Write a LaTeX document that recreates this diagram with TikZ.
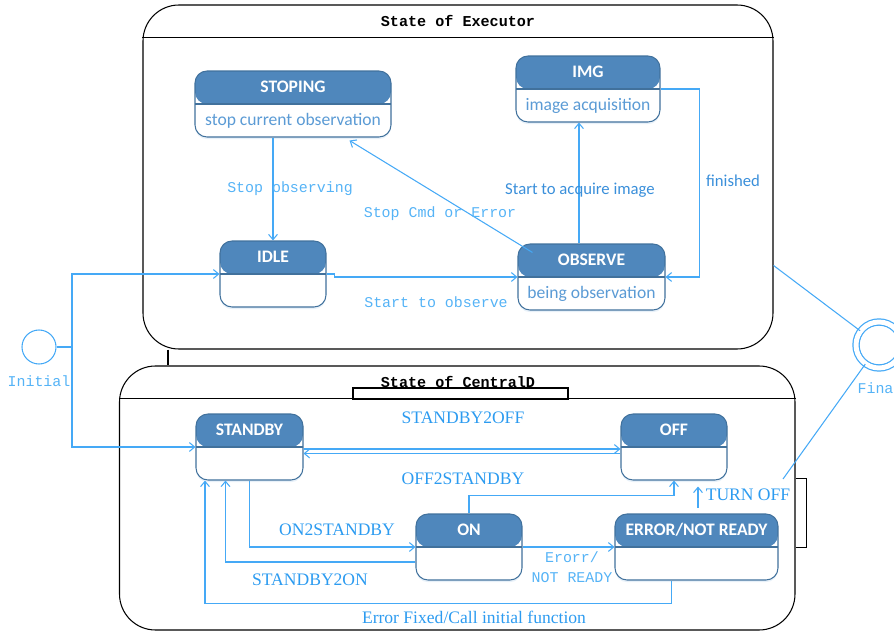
\documentclass[tikz,border=0pt]{standalone}
\usepackage{fontspec}
\setmainfont{Liberation Serif}
\setmonofont{Liberation Mono}
\newfontfamily\calibri{Carlito}
\usetikzlibrary{arrows.meta,calc,shadows}
\definecolor{headblue}{HTML}{4F87BC}
\definecolor{boxborder}{HTML}{41719C}
\definecolor{bodyblue}{HTML}{5B9BD5}
\definecolor{lineblue}{HTML}{45A9F6}
\definecolor{monoblue}{HTML}{55B3F6}
\definecolor{serifblue}{HTML}{2C9BF0}
\definecolor{sansblue}{HTML}{3A8FDA}
\newcommand{\pxu}{0.02cm}

\begin{document}
\begin{tikzpicture}[x=\pxu, y=-\pxu,
    container/.style={draw, line width=0.6pt, rounded corners=0.72cm, inner sep=0pt},
    statebox/.style={draw=boxborder, line width=0.6pt, fill=white, rounded corners=0.24cm, minimum height=66*\pxu, inner sep=0pt,
        drop shadow={shadow xshift=0pt, shadow yshift=-1.2pt, fill=bodyblue!40, opacity=0.35},
        path picture={\fill[headblue] (path picture bounding box.north west) rectangle (path picture bounding box.east);
            \draw[boxborder, line width=0.6pt] (path picture bounding box.west) -- (path picture bounding box.east);}},
    headtxt/.style={anchor=south, minimum height=33*\pxu, inner sep=0pt, text=white, font=\calibri\bfseries\fontsize{10}{12}\selectfont},
    bodytxt/.style={anchor=north, minimum height=33*\pxu, inner sep=0pt, text=bodyblue, font=\calibri\fontsize{10}{12}\selectfont},
    arr/.style={draw=lineblue, line width=0.6pt, -{Straight Barb[length=3pt, width=5pt]}},
    wire/.style={draw=lineblue, line width=0.6pt},
    monolbl/.style={text=monoblue, font=\ttfamily\fontsize{8.5}{11.5}\selectfont, inner sep=1pt},
    seriflbl/.style={text=serifblue, font=\fontsize{10}{12}\selectfont, inner sep=1pt},
    sanslbl/.style={text=sansblue, font=\calibri\fontsize{9.5}{11}\selectfont, inner sep=1pt},
    titletxt/.style={font=\ttfamily\bfseries\fontsize{8.6}{10}\selectfont}]
    \useasboundingbox (0,0) rectangle (894,632);

    % Executor
    \node[container, minimum width=630*\pxu, minimum height=344*\pxu] (executor) at (458,177) {};
    \draw[line width=0.6pt] ($(executor.north west)+(0,33)$) -- ($(executor.north east)+(0,33)$);
    \node[titletxt] (executor-title) at (458,21) {State of Executor};

    \node[statebox, minimum width=196*\pxu] (stoping) at (293,104) {};
    \node[headtxt] (stoping-head) at (stoping.center) {STOPING};
    \node[bodytxt] (stoping-body) at (stoping.center) {stop current observation};

    \node[statebox, minimum width=144*\pxu] (img) at (588,89) {};
    \node[headtxt] (img-head) at (img.center) {IMG};
    \node[bodytxt] (img-body) at (img.center) {image acquisition};

    \node[statebox, minimum width=106*\pxu] (idle) at (273,274) {};
    \node[headtxt] (idle-head) at (idle.center) {IDLE};

    \node[statebox, minimum width=147*\pxu] (observe) at (591.5,277) {};
    \node[headtxt] (observe-head) at (observe.center) {OBSERVE};
    \node[bodytxt] (observe-body) at (observe.center) {being observation};

    % CentralD
    \node[container, minimum width=675.5*\pxu, minimum height=264*\pxu] (central) at (457.25,498) {};
    \draw[line width=0.6pt] (353,388) rectangle (568,399);
    \draw[line width=0.6pt] ($(central.north west)+(0,33)$) -- ($(central.north east)+(0,33)$);
    \node[titletxt] (central-title) at (458,382) {State of CentralD};
    \draw[line width=0.6pt] ($(central.north east)+(0,113)$) -- ++(11,0) -- ++(0,69) -- ++(-11,0);
    \draw[line width=0.6pt] (168,0 |- executor.south) -- (168,0 |- central.north);

    \node[statebox, minimum width=107*\pxu] (standby) at (249.5,447) {};
    \node[headtxt] (standby-head) at (standby.center) {STANDBY};

    \node[statebox, minimum width=106*\pxu] (off) at (674,447) {};
    \node[headtxt] (off-head) at (off.center) {OFF};

    \node[statebox, minimum width=106*\pxu] (on) at (469,547) {};
    \node[headtxt] (on-head) at (on.center) {ON};

    \node[statebox, minimum width=163*\pxu] (error) at (696.5,547) {};
    \node[headtxt] (error-head) at (error.center) {ERROR/NOT READY};

    % Initial and final
    \node[circle, draw=lineblue, line width=0.6pt, minimum size=34*\pxu, inner sep=0pt] (init) at (39,347) {};
    \node[monolbl] (init-label) at (39,381) {Initial};
    \node[circle, draw=lineblue, line width=0.7pt, double, double distance=2.8pt, minimum size=46*\pxu, inner sep=0pt] (final) at (879,345) {};
    \node[monolbl] (final-label) at (880,388) {Final};
    \coordinate (fork) at (72,347);
    \coordinate (turnoff-end) at (783,479);

    % Executor transitions
    \draw[arr] (idle.north |- stoping.south) -- (idle.north);
    \node[monolbl] (lbl-stop-obs) at (290,189) {Stop observing};
    \draw[arr] ($(observe.north west)+(15,9)$) -- ($(stoping.south east)+(-42,3)$);
    \node[monolbl] (lbl-stop-cmd) at (440,214) {Stop Cmd or Error};
    \draw[arr] ($(observe.north)+(-12.5,0)$) -- ($(img.south)+(-9,0)$);
    \node[sanslbl] (lbl-acquire) at (580,190) {Start to acquire image};
    \draw[arr] (img.east) -- ++(39,0) |- (observe.east);
    \node[sanslbl] (lbl-finished) at (733,181) {finished};
    \draw[arr] (idle.east) -- ++(8,0) |- (observe.west);
    \node[monolbl] (lbl-start-obs) at (436,302) {Start to observe};

    % Initial / final connectors
    \draw[wire] (init) -- (fork);
    \draw[arr] (fork) |- (idle.west);
    \draw[arr] (fork) |- (standby.west);
    \draw[wire] ($(executor.north east)+(0,261)$) -- (final);
    \draw[wire] (turnoff-end) -- (final);

    % CentralD transitions
    \draw[arr] ($(standby.east)+(0,2)$) -- ($(off.west)+(0,2)$);
    \node[seriflbl] (lbl-sb2off) at (463,418) {STANDBY2OFF};
    \draw[arr] ($(off.west)+(0,6.5)$) -- ($(standby.east)+(0,6.5)$);
    \node[seriflbl] (lbl-off2sb) at (463,479) {OFF2STANDBY};
    \draw[arr] (standby.south) |- (on.west);
    \node[seriflbl] (lbl-on2sb) at (337,530) {ON2STANDBY};
    \draw[arr] ($(on.west)+(0,15)$) -| ($(standby.south)+(-24,0)$);
    \node[seriflbl] (lbl-sb2on) at (310,580) {STANDBY2ON};
    \draw[arr] (on.north) -- ++(0,-18) -| (off.south);
    \draw[arr] (on.east) -- (error.west);
    \node[monolbl, align=center] (lbl-error) at (572,567) {Erorr/\\NOT READY};
    \draw[arr, shorten <=3.4pt, shorten >=3.4pt] (698,0 |- error.north) -- (698,0 |- off.south);
    \node[seriflbl] (lbl-turnoff) at (748,495) {TURN OFF};
    \draw[arr] ($(error.south)+(-25,0)$) -- ++(0,23) -| ($(standby.south)+(-44.5,0)$);
    \node[seriflbl] (lbl-fixed) at (474,617) {Error Fixed/Call initial function};

\end{tikzpicture}
\end{document}
